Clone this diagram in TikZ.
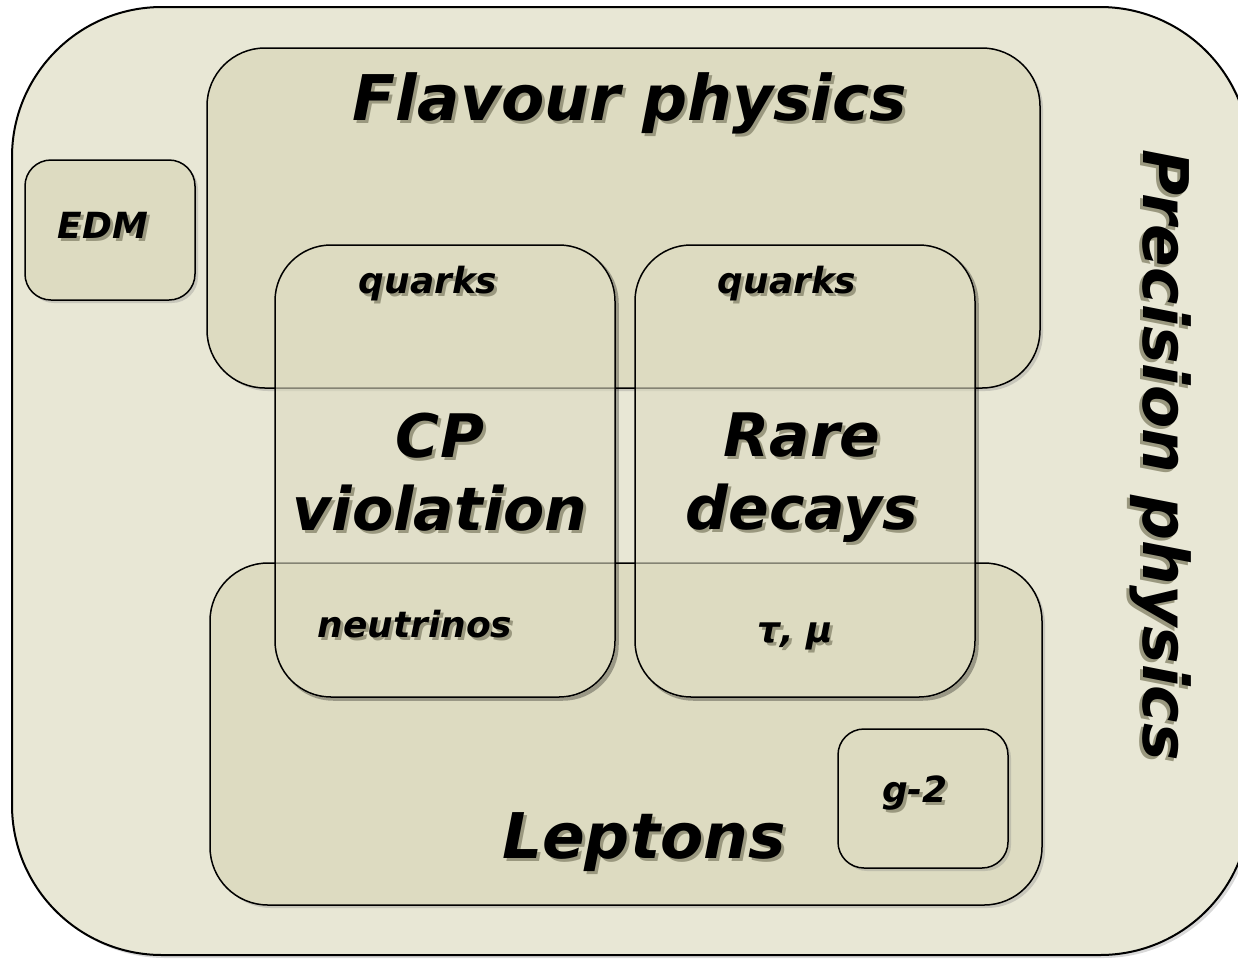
\documentclass[tikz,border=0pt]{standalone}
\usepackage{fontspec}
\setmainfont{DejaVu Sans}
\usetikzlibrary{positioning,shadows}
\definecolor{outerbeige}{HTML}{E8E7D5}
\definecolor{panelbeige}{HTML}{DDDBC1}
\definecolor{shadowgray}{HTML}{9A987F}
\newcommand{\shadowed}[1]{\leavevmode\rlap{\kern1.5pt\raisebox{-1.5pt}{\textcolor{shadowgray}{#1}}}#1}
\tikzset{panel/.style={rectangle,rounded corners=29pt,draw=black,line width=.75pt,
 fill=panelbeige,inner sep=0pt,
 drop shadow={shadow xshift=1.5pt,shadow yshift=-1.5pt,opacity=.3}},
 smallpanel/.style={panel,rounded corners=13pt},
 outer/.style={panel,fill=outerbeige,rounded corners=75pt,line width=1pt},
 glass/.style={rectangle,rounded corners=28pt,draw=black,line width=.75pt,
 fill=panelbeige,fill opacity=.6,inner sep=0pt},
 bigtext/.style={font=\fontsize{31.5}{36.5}\selectfont\bfseries\itshape,align=center,text=black},
 midtext/.style={bigtext,font=\fontsize{30}{36.5}\selectfont\bfseries\itshape},
 smalltext/.style={font=\fontsize{18}{21}\selectfont\bfseries\itshape,text=black}}

\begin{document}
\begin{tikzpicture}[x=.5pt,y=-.5pt]
 \useasboundingbox (0,0) rectangle (1238,960);
 \clip (0,0) rectangle (1238,960);
 % boxes
 \node[outer,minimum width=619pt,minimum height=474pt] (precision) at (631,481) {};
 \node[panel,minimum width=416.5pt,minimum height=170pt] (flavour) at (623.5,218) {};
 \node[panel,minimum width=416pt,minimum height=171pt] (leptons) at (626,734) {};
 \node[smallpanel,minimum width=85pt,minimum height=70pt] (edm) at (110,230) {};
 \node[smallpanel,minimum width=85pt,minimum height=69.5pt] (gtwo) at (923,798.5) {};
 \node[glass,minimum width=170pt,minimum height=226pt] (cp) at (445,471) {};
 \node[glass,minimum width=170pt,minimum height=226pt] (rare) at (805,471) {};
 \begin{scope}[even odd rule,rounded corners=28pt]
  \clip [sharp corners] (0,0) rectangle (1238,960)
   [rounded corners=28pt] (cp.north west) rectangle (cp.south east)
   (rare.north west) rectangle (rare.south east);
  \fill[black,opacity=.3]
   ([shift={(1.5pt,-1.5pt)}]cp.north west) rectangle ([shift={(1.5pt,-1.5pt)}]cp.south east)
   ([shift={(1.5pt,-1.5pt)}]rare.north west) rectangle ([shift={(1.5pt,-1.5pt)}]rare.south east);
 \end{scope}
 % labels
 \node[bigtext,anchor=base] (flavourlabel) at (630,120) {\shadowed{Flavour physics}};
 \node[bigtext,anchor=base] (leptonslabel) at (644,858) {\shadowed{Leptons}};
 \node[midtext] (cplabel) at (440,474) {\shadowed{CP}\\\shadowed{violation}};
 \node[midtext] (rarelabel) at (802,479) {\shadowed{Rare}\\\shadowed{decays}};
 \node[bigtext,anchor=base,rotate=-90] (precisionlabel) at (1143,455) {\shadowed{Precision physics}};
 \node[smalltext,anchor=base] (edmlabel) at (103,238) {\shadowed{EDM}};
 \node[smalltext,anchor=base] (cpquarks) at (428,293) {\shadowed{quarks}};
 \node[smalltext,anchor=base] (rarequarks) at (787,293) {\shadowed{quarks}};
 \node[smalltext,anchor=base] (neutrinos) at (415,637) {\shadowed{neutrinos}};
 \node[smalltext,anchor=base] (taumu) at (795,642) {\shadowed{τ, μ}};
 \node[smalltext,anchor=base] (gtwolabel) at (915,802) {\shadowed{g-2}};
\end{tikzpicture}
\end{document}
